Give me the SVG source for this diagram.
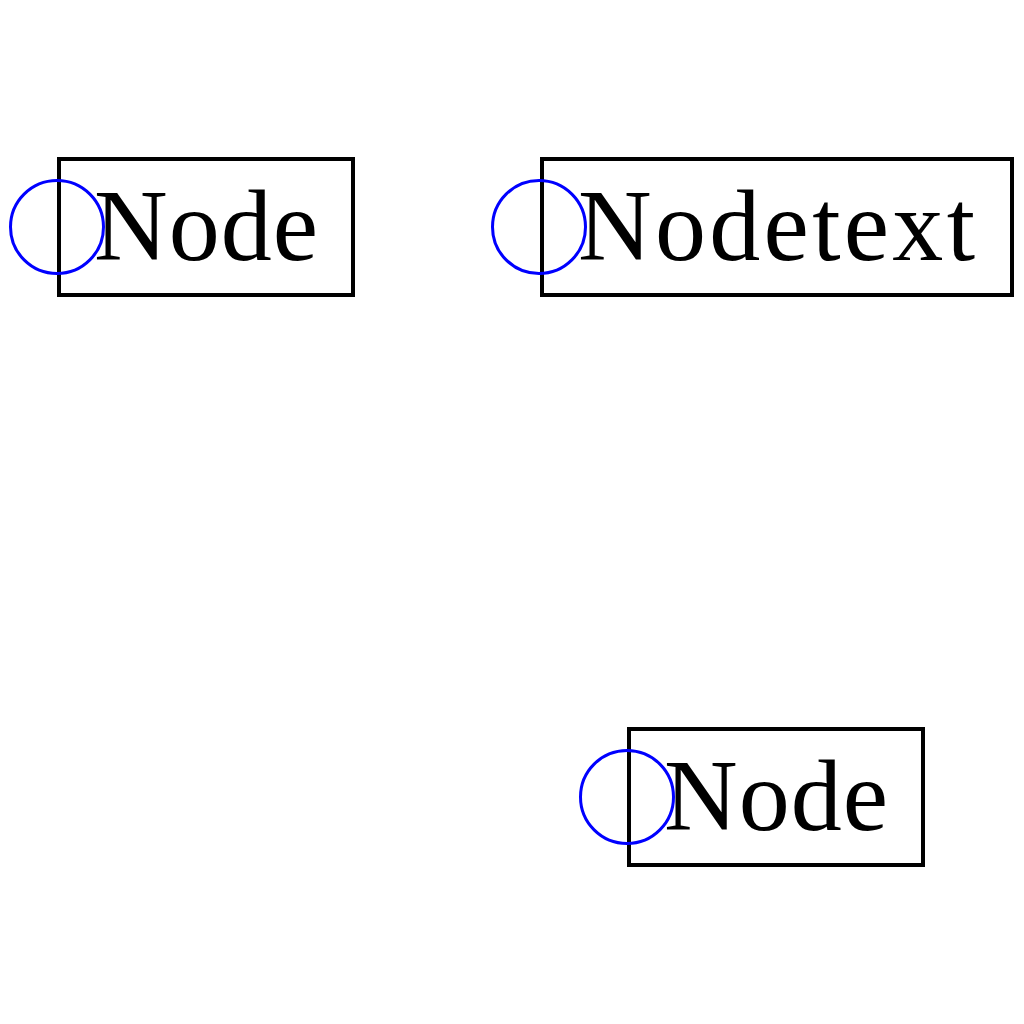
<svg xmlns="http://www.w3.org/2000/svg" width="1024" height="1024" viewBox="0 0 1024 1024">
  <style>
    .box { fill: none; stroke: #000; stroke-width: 4; }
    .anchor { fill: none; stroke: #0000ff; stroke-width: 3; }
    .label { font-family: "Liberation Serif", "DejaVu Serif", serif; font-size: 102px; fill: #000; }
  </style>
  <rect width="1024" height="1024" fill="#fff"/>
  <g id="connectors"></g>
  <g id="node-a">
    <rect class="box" x="59" y="159" width="294" height="136"/>
    <text class="label" x="94" y="260" textLength="224" lengthAdjust="spacing">Node</text>
    <circle class="anchor" cx="57" cy="227" r="46.5"/>
  </g>
  <g id="node-b">
    <rect class="box" x="542" y="159" width="470" height="136"/>
    <text class="label" x="578" y="260" textLength="397" lengthAdjust="spacing">Nodetext</text>
    <circle class="anchor" cx="539" cy="227" r="46.5"/>
  </g>
  <g id="node-c">
    <rect class="box" x="629" y="729" width="294" height="136"/>
    <text class="label" x="664" y="830" textLength="224" lengthAdjust="spacing">Node</text>
    <circle class="anchor" cx="627" cy="797" r="46.5"/>
  </g>
</svg>
